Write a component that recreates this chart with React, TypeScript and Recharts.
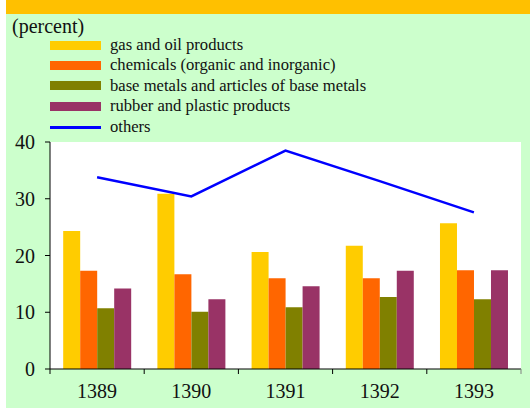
import { ComposedChart, Bar, Line, XAxis, YAxis, CartesianGrid, Legend } from 'recharts'

const years = ['1389', '1390', '1391', '1392', '1393']
const gasOil = [24.3, 30.9, 20.6, 21.7, 25.7]
const chemicals = [17.3, 16.7, 16.0, 16.0, 17.4]
const baseMetals = [10.7, 10.1, 10.9, 12.7, 12.3]
const rubberPlastic = [14.2, 12.3, 14.6, 17.3, 17.4]
const others = [33.8, 30.4, 38.5, 33.1, 27.6]
const yTicks = [0, 10, 20, 30, 40]
const seriesNames = [
  'gas and oil products',
  'chemicals (organic and inorganic)',
  'base metals and articles of base metals',
  'rubber and plastic products',
  'others',
]

const data = years.map((year, i) => ({
  year,
  gasOil: gasOil[i],
  chemicals: chemicals[i],
  baseMetals: baseMetals[i],
  rubberPlastic: rubberPlastic[i],
  others: others[i],
}))

const FONT = '"Liberation Serif", "Times New Roman", serif'
const CHART_W = 524
const CHART_H = 409
const Y_AXIS_W = 44
const MARGIN = { top: 142, right: 9, bottom: 10, left: 0 }
const BAND = (CHART_W - MARGIN.right - Y_AXIS_W) / years.length

function YearTick(props: any) {
  const { x, y, payload, index } = props
  const left = x - BAND / 2
  const right = x + BAND / 2
  return (
    <g>
      <line x1={left} x2={left} y1={y} y2={y + 5} stroke="#000" />
      {index === years.length - 1 && <line x1={right} x2={right} y1={y} y2={y + 5} stroke="#808080" />}
      <text x={x} y={y + 15} dy="0.71em" textAnchor="middle" fontSize={20} fontFamily={FONT} fill="#111">
        {payload.value}
      </text>
    </g>
  )
}

function LegendBox(props: any) {
  const items = [...(props.payload || [])].sort(
    (a: any, b: any) => seriesNames.indexOf(a.value) - seriesNames.indexOf(b.value)
  )
  return (
    <div style={{ position: 'relative', width: CHART_W, height: 140, fontFamily: FONT, color: '#111' }}>
      <div style={{ position: 'absolute', left: 6, top: 15, fontSize: 20, lineHeight: '22px', fontFamily: FONT }}>
        (percent)
      </div>
      {items.map((item: any, i: number) => {
        const cy = 45 + i * 20.4
        return (
          <div key={item.value} style={{ position: 'absolute', left: 0, top: cy - 10, height: 20, width: 420 }}>
            {item.type === 'line' ? (
              <div style={{ position: 'absolute', left: 44, top: 9, width: 51, height: 3, background: item.color }} />
            ) : (
              <div style={{ position: 'absolute', left: 44, top: 5.5, width: 51, height: 9, background: item.color }} />
            )}
            <span
              style={{
                position: 'absolute',
                left: 104,
                top: 0,
                fontSize: 16.6,
                lineHeight: '20px',
                whiteSpace: 'nowrap',
                fontFamily: FONT,
              }}
            >
              {item.value}
            </span>
          </div>
        )
      })}
    </div>
  )
}

export default function App() {
  return (
    <div style={{ position: 'absolute', left: 0, top: 0, width: 530, height: 409, background: '#fff' }}>
      <div style={{ position: 'absolute', left: 6, top: 0, width: CHART_W, height: 408, background: '#CCFFCC' }} />
      <div style={{ position: 'absolute', left: 6, top: 0, width: CHART_W, height: 14, background: '#FFC000' }} />
      <div style={{ position: 'absolute', left: 6, top: 0 }}>
        <ComposedChart width={CHART_W} height={CHART_H} data={data} margin={MARGIN} barCategoryGap="14%" barGap={0}>
          <CartesianGrid fill="#ffffff" horizontal={false} vertical={false} />
          <XAxis
            dataKey="year"
            stroke="#000"
            tickLine={false}
            tickSize={0}
            tickMargin={0}
            height={30}
            tick={<YearTick />}
            interval={0}
          />
          <XAxis xAxisId="top" dataKey="year" orientation="top" height={0} tick={false} tickLine={false} stroke="#808080" />
          <YAxis
            domain={[0, 40]}
            ticks={yTicks}
            width={Y_AXIS_W}
            stroke="#000"
            tickSize={5}
            tickMargin={10}
            tick={{ fontSize: 20, fontFamily: FONT, fill: '#111' }}
          />
          <YAxis yAxisId="right" orientation="right" domain={[0, 40]} width={0} tick={false} tickLine={false} stroke="#808080" />
          <Legend
            layout="vertical"
            align="center"
            verticalAlign="middle"
            wrapperStyle={{ position: 'absolute', left: 0, top: 0, width: CHART_W }}
            content={<LegendBox />}
          />
          <Bar dataKey="gasOil" name={seriesNames[0]} fill="#FFCC00" isAnimationActive={false} />
          <Bar dataKey="chemicals" name={seriesNames[1]} fill="#FF6600" isAnimationActive={false} />
          <Bar dataKey="baseMetals" name={seriesNames[2]} fill="#808000" isAnimationActive={false} />
          <Bar dataKey="rubberPlastic" name={seriesNames[3]} fill="#993366" isAnimationActive={false} />
          <Line
            dataKey="others"
            name={seriesNames[4]}
            type="linear"
            stroke="#0000FF"
            strokeWidth={2.5}
            dot={false}
            legendType="line"
            isAnimationActive={false}
          />
        </ComposedChart>
      </div>
    </div>
  )
}
